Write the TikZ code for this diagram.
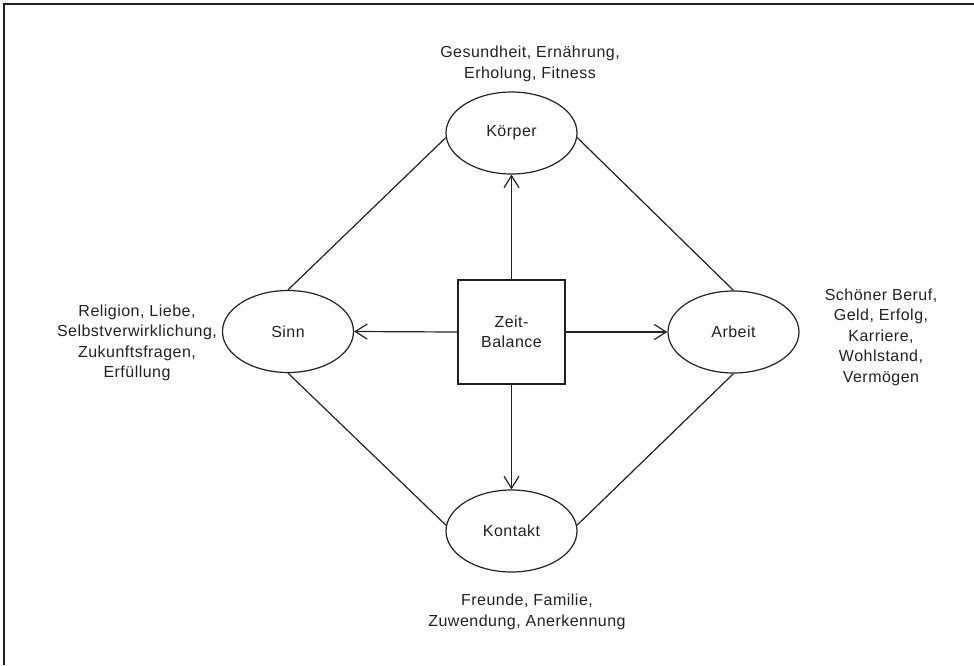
\documentclass[tikz,border=0pt]{standalone}
\usepackage{fontspec}
\setmainfont[LetterSpace=3]{Liberation Sans}
\usetikzlibrary{shapes.geometric,arrows.meta}
\definecolor{ink}{HTML}{222222}
\begin{document}
\begin{tikzpicture}[x=1pt,y=-1pt,
  every node/.style={text=ink},
  txt/.style={font=\fontsize{16}{20.5}\selectfont},
  ell/.style={ellipse,draw=ink,line width=1.2pt,minimum width=131pt,minimum height=82pt,inner sep=0pt,txt},
  zbox/.style={rectangle,draw=ink,line width=1.2pt,minimum width=107pt,minimum height=104pt,inner sep=0pt,align=center,txt},
  lbl/.style={align=center,inner sep=0pt,txt},
  conn/.style={draw=ink,line width=1.2pt},
  arr/.style={conn,-{Straight Barb[length=12pt,width=15pt,line width=1.2pt]}}
]
\useasboundingbox (0,0) rectangle (974,665);
\draw[ink,line width=2.5pt] (4,665) -- (4,4) -- (974,4);

\node[ell] (k) at (511.5,133) {Körper};
\node[ell] (s) at (288,331.5) {Sinn};
\node[ell] (a) at (733.5,332) {Arbeit};
\node[ell] (ko) at (511.5,531) {Kontakt};
\node[zbox] (z) at (511.5,332) {Zeit-\\Balance};

\node[lbl] (lk) at (530,64) {Gesundheit, Ernährung,\\Erholung, Fitness};
\node[lbl] (ls) at (137,343) {Religion, Liebe,\\Selbstverwirklichung,\\Zukunftsfragen,\\Erfüllung};
\node[lbl] (la) at (881,337) {Schöner Beruf,\\Geld, Erfolg,\\Karriere,\\Wohlstand,\\Vermögen};
\node[lbl] (lko) at (527,612) {Freunde, Familie,\\Zuwendung, Anerkennung};

\draw[arr] (z.north) -- (k.south);
\draw[arr] (z.west) -- (s.east);
\draw[arr] (z.east) -- (a.west);
\draw[arr] (z.south) -- (ko.north);

\draw[conn] (k.184) -- (s.north);
\draw[conn] (k.356) -- (a.north);
\draw[conn] (s.south) -- (ko.175);
\draw[conn] (a.south) -- (ko.5);
\end{tikzpicture}
\end{document}
